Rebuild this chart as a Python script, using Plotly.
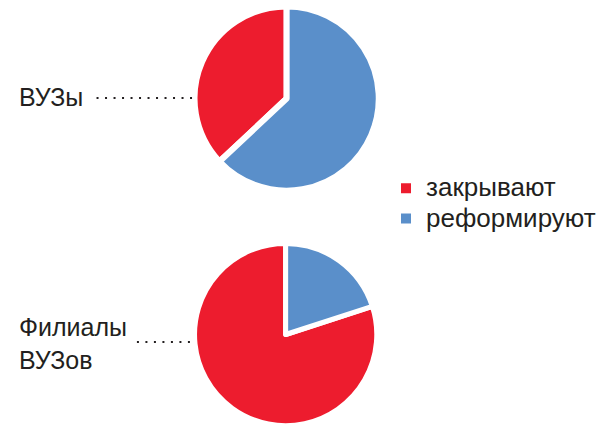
import plotly.graph_objects as go

# Data
labels = ["закрывают", "реформируют"]
vuz_values = [37, 63]          # ВУЗы
branch_values = [80, 20]       # Филиалы ВУЗов
group_names = ["ВУЗы", "Филиалы<br>ВУЗов"]

colors = ["#ED1C2E", "#5A8FCA"]
W, H = 601, 427
FONT = "Liberation Sans, Arial, sans-serif"
TXT = "#231F20"


def box(cx, cy, half):
    return dict(x=[(cx - half) / W, (cx + half) / W],
                y=[max(0, 1 - (cy + half) / H), min(1, 1 - (cy - half) / H)])


def start_angle(values):
    # first slice (red) starts where the blue slice (from 12 o'clock) ends
    return 360.0 * values[1] / sum(values)


legend_labels = [f"<span style='font-size:26px'>{t}</span>" for t in labels]

fig = go.Figure()
fig.add_trace(go.Pie(
    labels=legend_labels, values=vuz_values, sort=False, direction="clockwise",
    rotation=start_angle(vuz_values),
    marker=dict(colors=colors, line=dict(color="white", width=6)),
    textinfo="none", hoverinfo="percent",
    domain=box(291, 98.5, 93.5), showlegend=True,
))
fig.add_trace(go.Pie(
    labels=legend_labels, values=branch_values, sort=False, direction="clockwise",
    rotation=start_angle(branch_values),
    marker=dict(colors=colors, line=dict(color="white", width=5)),
    textinfo="none", hoverinfo="percent",
    domain=box(290, 334.5, 92.5), showlegend=False,
))

annotations = [
    dict(text=group_names[0], x=17 / W, y=1 - 97 / H, xanchor="left", yanchor="middle"),
    dict(text=group_names[1], x=17 / W, y=1 - 343 / H, xanchor="left", yanchor="middle",
         align="left"),
]
for a in annotations:
    a.update(xref="paper", yref="paper", showarrow=False,
             font=dict(family=FONT, size=25, color=TXT))

shapes = [
    dict(type="line", xref="paper", yref="paper", x0=98 / W, x1=195 / W,
         y0=1 - 98 / H, y1=1 - 98 / H,
         line=dict(color=TXT, width=2, dash="2px,6.5px")),
    dict(type="line", xref="paper", yref="paper", x0=139 / W, x1=195 / W,
         y0=1 - 342 / H, y1=1 - 342 / H,
         line=dict(color=TXT, width=2, dash="2px,6.5px")),
]

fig.update_layout(
    width=W, height=H,
    margin=dict(l=0, r=0, t=0, b=0),
    paper_bgcolor="white", plot_bgcolor="white",
    annotations=annotations, shapes=shapes,
    legend=dict(x=392 / W, y=1 - 168 / H, xanchor="left", yanchor="top",
                font=dict(family=FONT, size=21, color=TXT),
                itemsizing="constant", tracegroupgap=0,
                bgcolor="rgba(0,0,0,0)"),
)

fig.write_html("out.html", config={"displayModeBar": False},
               post_script="document.body.style.margin='0px';")
